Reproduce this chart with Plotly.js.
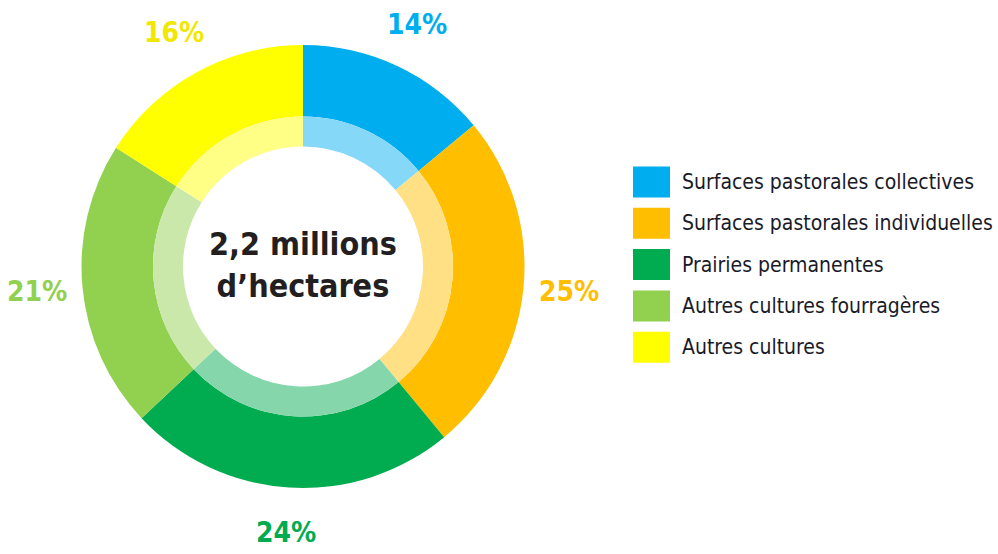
<!DOCTYPE html>
<html>
<head>
<meta charset="utf-8">
<script src="https://cdn.plot.ly/plotly-3.0.1.min.js"></script>
<style>
html,body{margin:0;padding:0;background:#fff;}
#chart svg text{font-stretch:condensed !important;}
</style>
</head>
<body>
<div id="chart" style="width:998px;height:554px;"></div>
<script>
// ---- data ----
const categories = [
  "Surfaces pastorales collectives",
  "Surfaces pastorales individuelles",
  "Prairies permanentes",
  "Autres cultures fourragères",
  "Autres cultures"
];
const shares = [14, 25, 24, 21, 16];
const percentLabels = ["14%", "25%", "24%", "21%", "16%"];
const centerText = ["2,2 millions", "d’hectares"];

// ---- styles ----
const colors = ["#00AEEF", "#FFBE00", "#00AC4F", "#92D050", "#FFFF00"];
const labelColors = ["#00AEEF", "#FFBE00", "#00AC4F", "#92D050", "#F0E800"];
const W = 998, H = 554;
const cx = 303, cy = 266.5;          // pixel centre of the donut
const rOuter = 221.5, rMid = 150, rInner = 120;
const labelR = 267;
const FONT = "DejaVu Sans Condensed, DejaVu Sans, sans-serif";

function tint(hex, a) {
  const n = parseInt(hex.slice(1), 16);
  const r = (n >> 16) & 255, g = (n >> 8) & 255, b = n & 255;
  const mix = c => Math.round(255 - (255 - c) * a);
  return `rgb(${mix(r)},${mix(g)},${mix(b)})`;
}
function domainFor(r) {
  const cyUp = H - cy;
  return {
    x: [(cx - r) / W, (cx + r) / W],
    y: [(cyUp - r) / H, (cyUp + r) / H]
  };
}

const outer = {
  type: "pie",
  labels: categories,
  values: shares,
  sort: false,
  direction: "clockwise",
  rotation: 0,
  hole: rMid / rOuter,
  domain: domainFor(rOuter),
  marker: { colors: colors, line: { width: 0 } },
  textinfo: "none",
  hoverinfo: "label+percent",
  showlegend: false
};
const inner = {
  type: "pie",
  labels: categories,
  values: shares,
  sort: false,
  direction: "clockwise",
  rotation: 0,
  hole: rInner / rMid,
  domain: domainFor(rMid),
  marker: { colors: colors.map(c => tint(c, 0.48)), line: { width: 0 } },
  textinfo: "none",
  hoverinfo: "label+percent",
  showlegend: false
};

// percentage labels placed at each slice's mid-angle
const total = shares.reduce((a, b) => a + b, 0);
const annotations = [];
let cum = 0;
shares.forEach((v, i) => {
  const mid = (cum + v / 2) / total * 2 * Math.PI;
  cum += v;
  const px = cx + labelR * Math.sin(mid);
  const py = cy - labelR * Math.cos(mid);
  annotations.push({
    xref: "paper", yref: "paper",
    x: px / W, y: 1 - py / H,
    xanchor: "center", yanchor: "middle",
    text: "<b>" + percentLabels[i] + "</b>",
    showarrow: false,
    font: { family: FONT, size: 28, color: labelColors[i] }
  });
});

// centre text
annotations.push({
  xref: "paper", yref: "paper",
  x: cx / W, y: 1 - 265 / H,
  xanchor: "center", yanchor: "middle",
  text: "<b>" + centerText.join("<br>") + "</b>",
  showarrow: false,
  font: { family: FONT, size: 32, color: "#231F20" }
});

// custom legend (large colour boxes)
const shapes = [];
const legX0 = 633, legX1 = 670, legTextX = 680, legY0 = 182, legStep = 41.3, boxH = 31;
categories.forEach((c, i) => {
  const yc = legY0 + i * legStep;
  shapes.push({
    type: "rect", xref: "paper", yref: "paper",
    x0: legX0 / W, x1: legX1 / W,
    y0: 1 - (yc + boxH / 2) / H, y1: 1 - (yc - boxH / 2) / H,
    fillcolor: colors[i], line: { width: 0 }
  });
  annotations.push({
    xref: "paper", yref: "paper",
    x: legTextX / W, y: 1 - yc / H,
    xanchor: "left", yanchor: "middle",
    text: c, showarrow: false,
    font: { family: FONT, size: 21, color: "#1A1A28" }
  });
});

const layout = {
  width: W, height: H,
  margin: { l: 0, r: 0, t: 0, b: 0 },
  paper_bgcolor: "#ffffff",
  plot_bgcolor: "#ffffff",
  showlegend: false,
  annotations: annotations,
  shapes: shapes
};

Plotly.newPlot("chart", [outer, inner], layout, { displayModeBar: false, staticPlot: true });
</script>
</body>
</html>
